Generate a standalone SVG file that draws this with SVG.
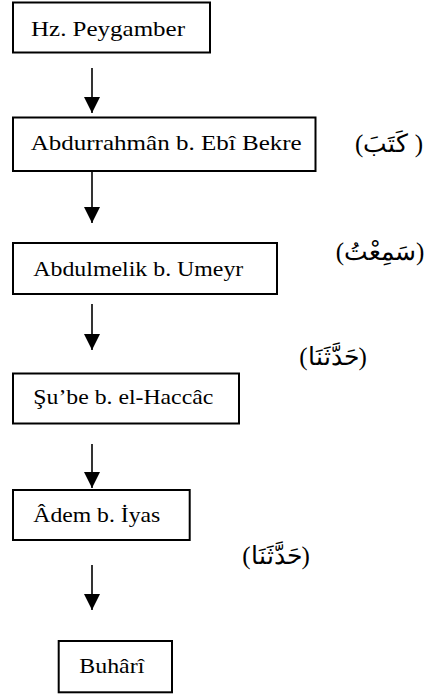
<svg xmlns="http://www.w3.org/2000/svg" width="443" height="695" viewBox="0 0 443 695">
<style>
.box{fill:#fff;stroke:#000;stroke-width:2}
.ar{font-family:Liberation Serif, serif;font-size:25px;fill:#000;text-anchor:middle}
.ln{stroke:#000;stroke-width:1.6;fill:none}
</style>
<defs>
<marker id="ah" markerUnits="userSpaceOnUse" markerWidth="16" markerHeight="17" refX="16" refY="8" orient="auto" viewBox="0 0 16 16">
<path d="M0,0 L16,8 L0,16 Z" fill="#000"/>
</marker>
</defs>
<rect width="443" height="695" fill="#fff"/>
<g id="connectors">
<line class="ln" x1="92" y1="68" x2="92" y2="113" marker-end="url(#ah)"/>
<line class="ln" x1="92" y1="172" x2="92" y2="223" marker-end="url(#ah)"/>
<line class="ln" x1="92" y1="304" x2="92" y2="350" marker-end="url(#ah)"/>
<line class="ln" x1="92" y1="444" x2="92" y2="488" marker-end="url(#ah)"/>
<line class="ln" x1="92" y1="565" x2="92" y2="610" marker-end="url(#ah)"/>
</g>
<g font-family="Liberation Serif" font-size="22" fill="#000">
<g id="n1">
<rect class="box" x="13" y="2.5" width="197" height="50"/>
<text x="31" y="35.5" textLength="154" lengthAdjust="spacingAndGlyphs">Hz. Peygamber</text>
</g>
<g id="n2">
<rect class="box" x="13" y="117.5" width="302.5" height="53.5"/>
<text x="30.7" y="150" textLength="271" lengthAdjust="spacingAndGlyphs">Abdurrahmân b. Ebî Bekre</text>
</g>
<g id="n3">
<rect class="box" x="13" y="243" width="264" height="51"/>
<text x="33.3" y="276" textLength="210" lengthAdjust="spacingAndGlyphs">Abdulmelik b. Umeyr</text>
</g>
<g id="n4">
<rect class="box" x="13" y="373.5" width="226" height="50"/>
<text x="33.3" y="404" textLength="180" lengthAdjust="spacingAndGlyphs">Şu’be b. el-Haccâc</text>
</g>
<g id="n5">
<rect class="box" x="13" y="490" width="176.7" height="50"/>
<text x="33.3" y="521.5" textLength="127" lengthAdjust="spacingAndGlyphs">Âdem b. İyas</text>
</g>
<g id="n6">
<rect class="box" x="58.7" y="641" width="113.3" height="51.3"/>
<text x="79.3" y="672.5" textLength="65" lengthAdjust="spacingAndGlyphs">Buhârî</text>
</g>
</g>
<g id="labels">
<text class="ar" x="389" y="152">(كَتَبَ )</text>
<text class="ar" x="380" y="260">(سَمِعْتُ)</text>
<text class="ar" x="333" y="365">(حَدَّثَنَا)</text>
<text class="ar" x="276" y="564">(حَدَّثَنَا)</text>
</g>
</svg>
